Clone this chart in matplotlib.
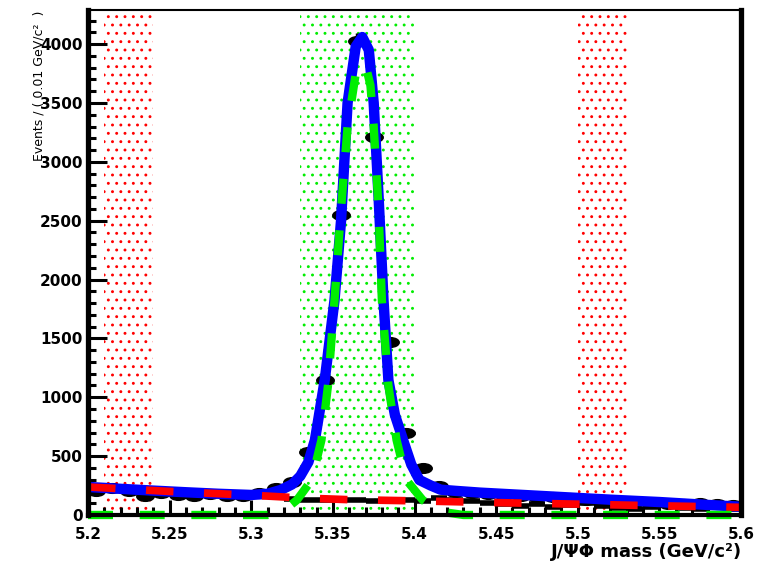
import numpy as np
import matplotlib
matplotlib.use('Agg')
import matplotlib.pyplot as plt
from matplotlib.markers import MarkerStyle
from matplotlib.transforms import Affine2D
from matplotlib.ticker import MultipleLocator

plt.rcParams['hatch.linewidth'] = 0.9

# data points, bin width 0.01
bin_centers = [round(5.205 + 0.01 * i, 3) for i in range(40)]
counts = [205, 225, 200, 160, 185, 170, 165, 175, 160, 165,
          185, 230, 280, 535, 1146, 2550, 4030, 3210, 1470, 696,
          400, 250, 195, 185, 175, 170, 160, 150, 150, 140,
          125, 120, 115, 110, 100, 95, 90, 100, 95, 85]

# second black sample (low level histogram)
side_x = bin_centers[12:]
side_counts = [135, 130, 125, 128, 125, 120, 118, 125, 122, 140,
               127, 115, 105, 95, 80, 90, 70, 85, 100, 80,
               60, 50, 65, 110, 60, 55, 70, 55]

# total fit
tot_x = [5.20, 5.22, 5.24, 5.26, 5.28, 5.30, 5.31, 5.318, 5.325, 5.330,
         5.335, 5.339, 5.345, 5.351, 5.355, 5.359, 5.364, 5.368, 5.372, 5.375,
         5.378, 5.381, 5.384, 5.388, 5.393, 5.398, 5.403, 5.41, 5.416, 5.425,
         5.44, 5.46, 5.48, 5.50, 5.52, 5.55, 5.58, 5.60]
tot_y = [238, 222, 207, 193, 180, 170, 180, 212, 260, 330,
         450, 637, 1146, 1825, 2500, 3500, 3980, 4060, 3950, 3500,
         2700, 1825, 1146, 850, 637, 430, 297, 250, 215, 205,
         190, 175, 160, 145, 130, 110, 85, 70]

# signal component
sig_x = [5.20, 5.31, 5.318, 5.322, 5.328, 5.337, 5.343, 5.347, 5.351, 5.355,
         5.359, 5.364, 5.3697, 5.373, 5.375, 5.378, 5.380, 5.384, 5.389, 5.395,
         5.405, 5.413, 5.42, 5.43, 5.60]
sig_y = [0, 0, 20, 60, 127, 297, 637, 1100, 1825, 2600,
         3300, 3750, 3840, 3650, 3300, 2600, 1825, 1100, 637, 297,
         127, 50, 20, 0, 0]

# background component
bkg_x = [5.20, 5.25, 5.30, 5.33, 5.36, 5.40, 5.45, 5.50, 5.55, 5.60]
bkg_y = [238, 200, 168, 145, 130, 120, 105, 92, 78, 65]

# sideband / signal windows
sb_left = (5.21, 5.24)
sig_win = (5.33, 5.40)
sb_right = (5.50, 5.53)

fig = plt.figure(figsize=(7.64, 5.63), dpi=100)
ax = fig.add_axes([0.1152, 0.0853, 0.8547, 0.897])

for lo, hi, c in [(sb_left[0], sb_left[1], 'red'), (sig_win[0], sig_win[1], '#00ee00'),
                  (sb_right[0], sb_right[1], 'red')]:
    ax.axvspan(lo, hi, facecolor='none', edgecolor=c, hatch='..', linewidth=0, zorder=1)

ell = MarkerStyle('o', transform=Affine2D().scale(1.8, 1.0))
ax.errorbar(side_x, side_counts, xerr=0.005, yerr=np.sqrt(side_counts), fmt='none',
            ecolor='black', elinewidth=4, zorder=2)
ax.errorbar(bin_centers, counts, xerr=0.005, yerr=np.sqrt(counts), fmt='none',
            ecolor='black', elinewidth=2.5, zorder=2)
ax.plot(bin_centers, counts, linestyle='none', marker=ell, markersize=7,
        color='black', zorder=2)

ax.plot(tot_x, tot_y, color='#0000ff', lw=7.5, solid_capstyle='butt', zorder=3)
ax.plot(bkg_x, bkg_y, color='#ff0000', lw=5.5, linestyle=(0, (3.6, 4.0)), zorder=4)
ax.plot(sig_x, sig_y, color='#00ee00', lw=6.0, linestyle=(0, (3.0, 3.2)),
        zorder=5, clip_on=False)

ax.set_xlim(5.2, 5.6)
ax.set_ylim(0, 4290)
ax.xaxis.set_major_locator(MultipleLocator(0.05))
ax.xaxis.set_minor_locator(MultipleLocator(0.01))
ax.yaxis.set_major_locator(MultipleLocator(500))
ax.yaxis.set_minor_locator(MultipleLocator(100))
ax.set_xticklabels([f'{v:g}' for v in ax.get_xticks()])

ax.tick_params(axis='x', which='major', direction='in', length=10.5, width=2.2, pad=9,
               top=False)
ax.tick_params(axis='x', which='minor', direction='in', length=5.5, width=2.2, top=False)
ax.tick_params(axis='y', which='major', direction='in', length=13.5, width=2.2, pad=4,
               right=False)
ax.tick_params(axis='y', which='minor', direction='in', length=5.5, width=2.2, right=False)
for lab in ax.get_xticklabels() + ax.get_yticklabels():
    lab.set_fontfamily('DejaVu Sans')
    lab.set_fontweight('bold')
    lab.set_fontsize(11)

ax.spines['left'].set_linewidth(3.8)
ax.spines['bottom'].set_linewidth(3.0)
ax.spines['right'].set_linewidth(3.8)
ax.spines['top'].set_linewidth(1.5)
for s in ax.spines.values():
    s.set_zorder(6)

fig.text(0.051, 0.982, 'Events / ( 0.01 GeV/c²  )', rotation=90, ha='center', va='top',
         fontsize=9, family=['Liberation Sans Narrow', 'DejaVu Sans Condensed', 'DejaVu Sans'])
fig.text(0.971, 0.011, 'J/ΨΦ mass (GeV/c²)', ha='right', va='baseline',
         fontsize=13, fontweight='bold', family='DejaVu Sans')

fig.savefig('out.png', dpi=100)
